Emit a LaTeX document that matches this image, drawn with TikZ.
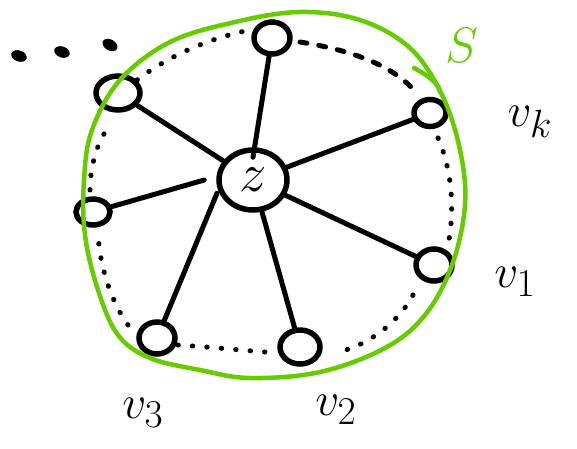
\documentclass[tikz,border=0pt]{standalone}
\usetikzlibrary{shapes.geometric}
\definecolor{sgreen}{RGB}{102,204,0}
\begin{document}
\begin{tikzpicture}[x=1pt,y=-1pt,
  vtx/.style={draw,ellipse,line width=5.5pt,inner sep=0pt},
  spoke/.style={line width=5pt,line cap=round},
  ring/.style={line width=5pt,line cap=round,dash pattern=on 0.5pt off 14pt},
  ringd/.style={line width=5pt,line cap=round,dash pattern=on 7pt off 12pt},
  dot/.style={fill,ellipse,inner sep=0pt,minimum width=16pt,minimum height=11pt}]
\useasboundingbox (0,0) rectangle (577,448);
% vertices
\node[vtx,minimum width=68pt,minimum height=60pt] (z) at (253,180) {\scalebox{2.2}{\Huge$z$}};
\node[vtx,minimum width=36pt,minimum height=32pt] (t) at (272,38) {};
\node[vtx,minimum width=44pt,minimum height=34pt] (ul) at (118,93) {};
\node[vtx,minimum width=32pt,minimum height=27pt] (vk) at (430,113) {};
\node[vtx,minimum width=34pt,minimum height=26pt] (l) at (93,212) {};
\node[vtx,minimum width=36pt,minimum height=32pt] (v1) at (434,265) {};
\node[vtx,minimum width=40pt,minimum height=34pt] (v2) at (300,347) {};
\node[vtx,minimum width=36pt,minimum height=32pt] (v3) at (157,338) {};
% spokes
\draw[spoke] (t) -- ([yshift=-10pt]z.north);
\draw[spoke] (ul) -- (z);
\draw[spoke] (vk) -- (z);
\draw[spoke] (l) -- ([xshift=-12pt]z.west);
\draw[spoke] (v1) -- (z);
\draw[spoke] (v2) -- (z);
\draw[spoke] (v3) -- ([xshift=-10pt,yshift=10pt]z.south west);
% ring of dots
\coordinate (r1) at (137,80);
\coordinate (r2) at (250,30);
\draw[ring] (r1) .. controls (170,55) and (210,38) .. (r2);
\coordinate (r3) at (300,42);
\coordinate (r4) at (418,95);
\draw[ringd] (r3) .. controls (350,50) and (395,65) .. (r4);
\coordinate (r5) at (438,138);
\coordinate (r6) at (448,245);
\draw[ring] (r5) .. controls (452,170) and (455,210) .. (r6);
\coordinate (r7) at (413,295);
\coordinate (r8) at (338,352);
\draw[ring] (r7) .. controls (400,320) and (370,345) .. (r8);
\coordinate (r9) at (265,352);
\coordinate (r10) at (178,345);
\draw[ring] (r9) .. controls (240,350) and (210,347) .. (r10);
\coordinate (r11) at (128,325);
\coordinate (r12) at (98,235);
\draw[ring] (r11) .. controls (110,300) and (100,265) .. (r12);
\coordinate (r13) at (90,190);
\coordinate (r14) at (110,125);
\draw[ring] (r13) .. controls (90,165) and (98,140) .. (r14);
% dots
\node[dot,rotate=-20] (d1) at (19,56) {};
\node[dot,rotate=-20] (d2) at (62,52) {};
\node[dot,rotate=-30] (d3) at (110,45) {};
% green set S
\draw[sgreen,line width=4.5pt,line cap=round] plot[smooth cycle,tension=0.6] coordinates {
 (300,12) (360,20) (410,48) (442,95) (460,150) (465,205) (452,265) (425,315)
 (385,348) (320,372) (250,378) (200,370) (150,358) (118,335) (98,290) (85,235)
 (84,180) (92,130) (120,80) (170,42) (235,22)};
\draw[sgreen,line width=4.5pt,line cap=round] (414,68) .. controls (428,75) and (440,85) .. (440,92);
\node[sgreen] (S) at (462,45) {\scalebox{2}{\Huge$S$}};
% labels
\node (lvk) at (530,122) {\scalebox{1.9}{\Huge$v_k$}};
\node (lv1) at (515,282) {\scalebox{1.9}{\Huge$v_1$}};
\node (lv2) at (336,410) {\scalebox{1.9}{\Huge$v_2$}};
\node (lv3) at (143,413) {\scalebox{1.9}{\Huge$v_3$}};
\end{tikzpicture}
\end{document}
